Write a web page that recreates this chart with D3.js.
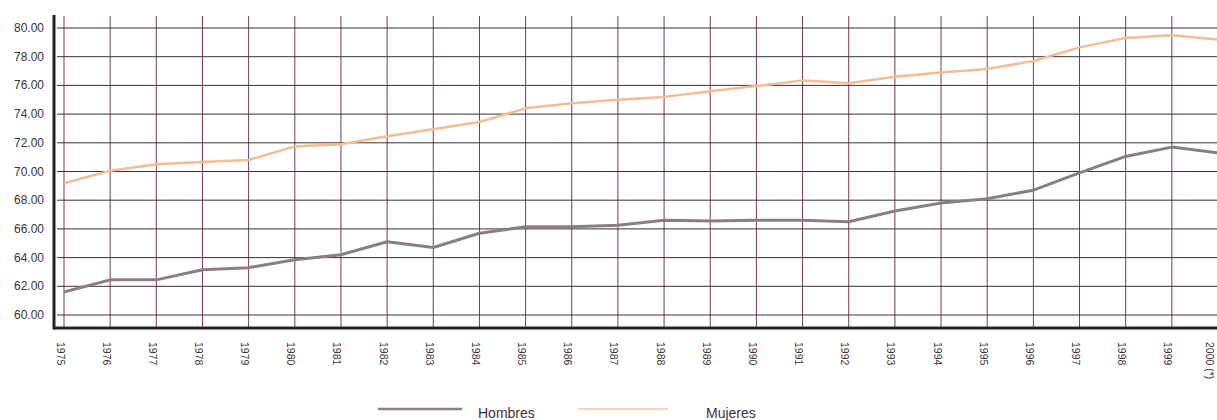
<!DOCTYPE html>
<html>
<head>
<meta charset="utf-8">
<script src="https://cdn.jsdelivr.net/npm/d3@7"></script>
<style>
  html, body { margin: 0; padding: 0; background: #ffffff; }
  svg { display: block; }
  text { font-family: "Liberation Sans", Arial, Helvetica, sans-serif; }
</style>
</head>
<body>
<svg id="chart" width="1217" height="420"></svg>
<script>
// ---- data ----
const years = [1975,1976,1977,1978,1979,1980,1981,1982,1983,1984,1985,1986,1987,1988,1989,1990,1991,1992,1993,1994,1995,1996,1997,1998,1999,2000];
const yearLabels = ["1975","1976","1977","1978","1979","1980","1981","1982","1983","1984","1985","1986","1987","1988","1989","1990","1991","1992","1993","1994","1995","1996","1997","1998","1999","2000 (*)"];
const hombres = [61.6,62.45,62.45,63.15,63.3,63.85,64.2,65.1,64.7,65.7,66.15,66.15,66.25,66.6,66.55,66.6,66.6,66.5,67.25,67.8,68.1,68.7,69.9,71.05,71.7,71.3];
const mujeres = [69.18,70.05,70.5,70.67,70.8,71.75,71.9,72.45,72.95,73.45,74.4,74.75,75.0,75.2,75.6,75.95,76.35,76.15,76.6,76.9,77.15,77.7,78.65,79.3,79.5,79.2];
const yTicks = [60,62,64,66,68,70,72,74,76,78,80];
const seriesNames = ["Hombres","Mujeres"];

// ---- layout ----
const svg = d3.select("#chart");
const x = d3.scaleLinear().domain([1975, 2000]).range([64, 1218]);
const y = d3.scaleLinear().domain([60, 80]).range([315, 28]);
const axisX = 54, axisBottom = 328, gridTop = 16, rightEdge = 1217;

const colH = "#8b7d88", colM = "#f3bd96";

// vertical grid
svg.append("g").selectAll("line").data(years).join("line")
  .attr("x1", d => x(d)).attr("x2", d => x(d))
  .attr("y1", gridTop).attr("y2", axisBottom)
  .attr("stroke", "#7a3a4c").attr("stroke-width", 1);

// horizontal grid
svg.append("g").selectAll("line").data(yTicks).join("line")
  .attr("x1", axisX + 3).attr("x2", rightEdge)
  .attr("y1", d => y(d)).attr("y2", d => y(d))
  .attr("stroke", "#3a3035").attr("stroke-width", 1);

// axes lines
svg.append("line").attr("x1", axisX).attr("x2", axisX).attr("y1", 15).attr("y2", axisBottom + 1.5)
  .attr("stroke", "#2a2226").attr("stroke-width", 3);
svg.append("line").attr("x1", axisX).attr("x2", rightEdge).attr("y1", axisBottom).attr("y2", axisBottom)
  .attr("stroke", "#2a2226").attr("stroke-width", 3);

// y labels
svg.append("g").selectAll("text").data(yTicks).join("text")
  .attr("x", 44).attr("y", d => y(d))
  .attr("text-anchor", "end").attr("dominant-baseline", "central")
  .attr("font-size", 12).attr("fill", "#3b3438")
  .text(d => d3.format(".2f")(d));

// x labels (rotated)
svg.append("g").selectAll("text").data(years).join("text")
  .attr("transform", (d) => `translate(${Math.min(x(d) - 3.5, 1210)},${axisBottom + 14}) rotate(90)`)
  .attr("text-anchor", "start").attr("dominant-baseline", "central")
  .attr("font-size", 10.5).attr("fill", "#3b3438")
  .text((d, i) => yearLabels[i]);

// lines
const line = d3.line().x((d, i) => x(years[i])).y(d => y(d));
svg.append("path").datum(mujeres).attr("d", line)
  .attr("fill", "none").attr("stroke", colM).attr("stroke-width", 2.5).attr("stroke-linejoin", "round");
svg.append("path").datum(hombres).attr("d", line)
  .attr("fill", "none").attr("stroke", colH).attr("stroke-width", 3).attr("stroke-linejoin", "round");

// legend
const legend = [
  {name: seriesNames[0], x1: 378, x2: 462, tx: 478, color: "#8e8389", w: 2.5},
  {name: seriesNames[1], x1: 578, x2: 668, tx: 706, color: "#f0c6a4", w: 1.6}
];
const lg = svg.append("g");
lg.selectAll("line").data(legend).join("line")
  .attr("x1", d => d.x1).attr("x2", d => d.x2).attr("y1", 409).attr("y2", 409)
  .attr("stroke", d => d.color).attr("stroke-width", d => d.w);
lg.selectAll("text").data(legend).join("text")
  .attr("x", d => d.tx).attr("y", 418)
  .attr("font-size", 14).attr("fill", "#3b3438")
  .text(d => d.name);
</script>
</body>
</html>
